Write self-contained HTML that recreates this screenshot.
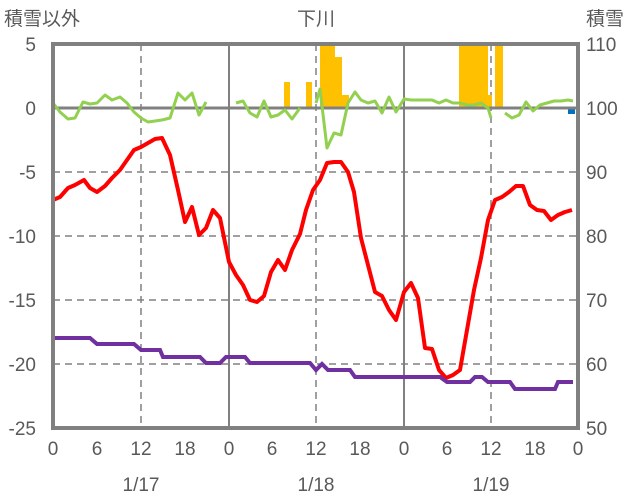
<!DOCTYPE html><html><head><meta charset="utf-8"><style>body{margin:0;background:#fff}svg{display:block}text{font-family:"Liberation Sans","Noto Sans CJK JP",sans-serif;fill:#595959}</style></head><body>
<svg width="636" height="501" xmlns="http://www.w3.org/2000/svg">
<g stroke="#808080" stroke-width="1.5" stroke-dasharray="7,5">
<line x1="53" y1="172" x2="578" y2="172"/><line x1="53" y1="236" x2="578" y2="236"/><line x1="53" y1="300" x2="578" y2="300"/><line x1="53" y1="364" x2="578" y2="364"/>
<line x1="141" y1="44" x2="141" y2="428"/><line x1="316" y1="44" x2="316" y2="428"/><line x1="491" y1="44" x2="491" y2="428"/>
</g>
<g stroke="#808080" stroke-width="2"><line x1="229" y1="44" x2="229" y2="428"/><line x1="404" y1="44" x2="404" y2="428"/></g>
<g fill="#FFC000">
<rect x="284" y="82" width="6" height="26"/><rect x="306" y="82" width="6" height="26"/>
<rect x="320" y="44" width="15" height="64"/><rect x="335" y="57" width="7" height="51"/><rect x="342" y="95" width="7" height="13"/>
<rect x="459" y="44" width="29" height="64"/><rect x="488" y="95" width="4" height="13"/><rect x="495" y="44" width="8" height="64"/>
</g>
<rect x="568" y="108" width="7" height="6" fill="#0070C0"/>
<line x1="53" y1="108" x2="578" y2="108" stroke="#808080" stroke-width="3"/>
<g fill="none" stroke="#92D050" stroke-width="3" stroke-linejoin="round">
<polyline points="53,103 60,112 68,119 75,118 83,102 90,104 97,103 105,95 112,100 120,97 127,103 134,112 141,118 148,122 155,121 162,120 170,118 178,93 185,100 192,93 199,115 206,102"/>
<polyline points="236,103 243,101 250,113 257,117 264,101 271,117 278,115 285,110 292,119 300,108"/>
<polyline points="316,103 320,89 327,148 334,133 341,135 348,103 355,92 361,100 368,103 375,101 382,113 389,97 396,112 404,99 411,100 418,100 425,100 432,100 439,103 446,100 453,103 460,103 467,105 474,105 481,103 488,108 491,118"/>
<polyline points="505,113 512,118 519,115 526,102 533,111 540,105 547,103 554,101 561,101 568,100 573,101"/>
</g>
<polyline fill="none" stroke="#FF0000" stroke-width="4" stroke-linejoin="round" points="53,200 60,197 68,188 75,185 84,180 90,188 97,192 105,186 112,178 120,170 127,160 134,150 141,147 148,143 155,139 162,138 170,155 178,190 185,222 192,207 199,235 206,228 213,210 220,218 229,262 236,275 243,285 250,300 257,302 264,296 271,272 278,260 285,270 292,250 300,234 306,210 313,190 320,180 327,163 334,162 341,162 348,172 354,192 361,238 368,265 375,292 382,296 389,310 396,320 404,292 411,283 418,298 425,348 432,349 439,370 446,378 453,375 460,370 467,330 474,290 481,258 488,220 495,200 502,197 509,192 516,186 523,186 530,205 537,210 544,211 551,220 558,215 565,212 572,210"/>
<polyline fill="none" stroke="#7030A0" stroke-width="4" points="53,338 90,338 97,344 134,344 141,350 160,350 163,357 200,357 206,363 220,363 226,357 245,357 250,363 310,363 316,370 322,364 328,370 350,370 355,377 440,377 447,382 470,382 475,377 482,377 488,382 510,382 515,389 555,389 558,382 573,382"/>
<rect x="53" y="44" width="525" height="384" fill="none" stroke="#808080" stroke-width="4"/>
<g font-size="19" text-anchor="end">
<text x="36" y="51">5</text><text x="36" y="115">0</text><text x="36" y="179">-5</text><text x="36" y="243">-10</text><text x="36" y="307">-15</text><text x="36" y="371">-20</text><text x="36" y="435">-25</text>
</g>
<g font-size="19" text-anchor="start">
<text x="586" y="51">110</text><text x="586" y="115">100</text><text x="586" y="179">90</text><text x="586" y="243">80</text><text x="586" y="307">70</text><text x="586" y="371">60</text><text x="586" y="435">50</text>
</g>
<g font-size="19" text-anchor="middle">
<text x="53" y="455">0</text><text x="97" y="455">6</text><text x="141" y="455">12</text><text x="185" y="455">18</text>
<text x="229" y="455">0</text><text x="272" y="455">6</text><text x="316" y="455">12</text><text x="360" y="455">18</text>
<text x="404" y="455">0</text><text x="447" y="455">6</text><text x="491" y="455">12</text><text x="535" y="455">18</text><text x="578" y="455">0</text>
<text x="141" y="491">1/17</text><text x="316" y="491">1/18</text><text x="491" y="491">1/19</text>
<text x="316" y="25">下川</text>
</g>
<text x="4" y="25" font-size="19">積雪以外</text>
<text x="586" y="25" font-size="19">積雪</text>
</svg></body></html>
